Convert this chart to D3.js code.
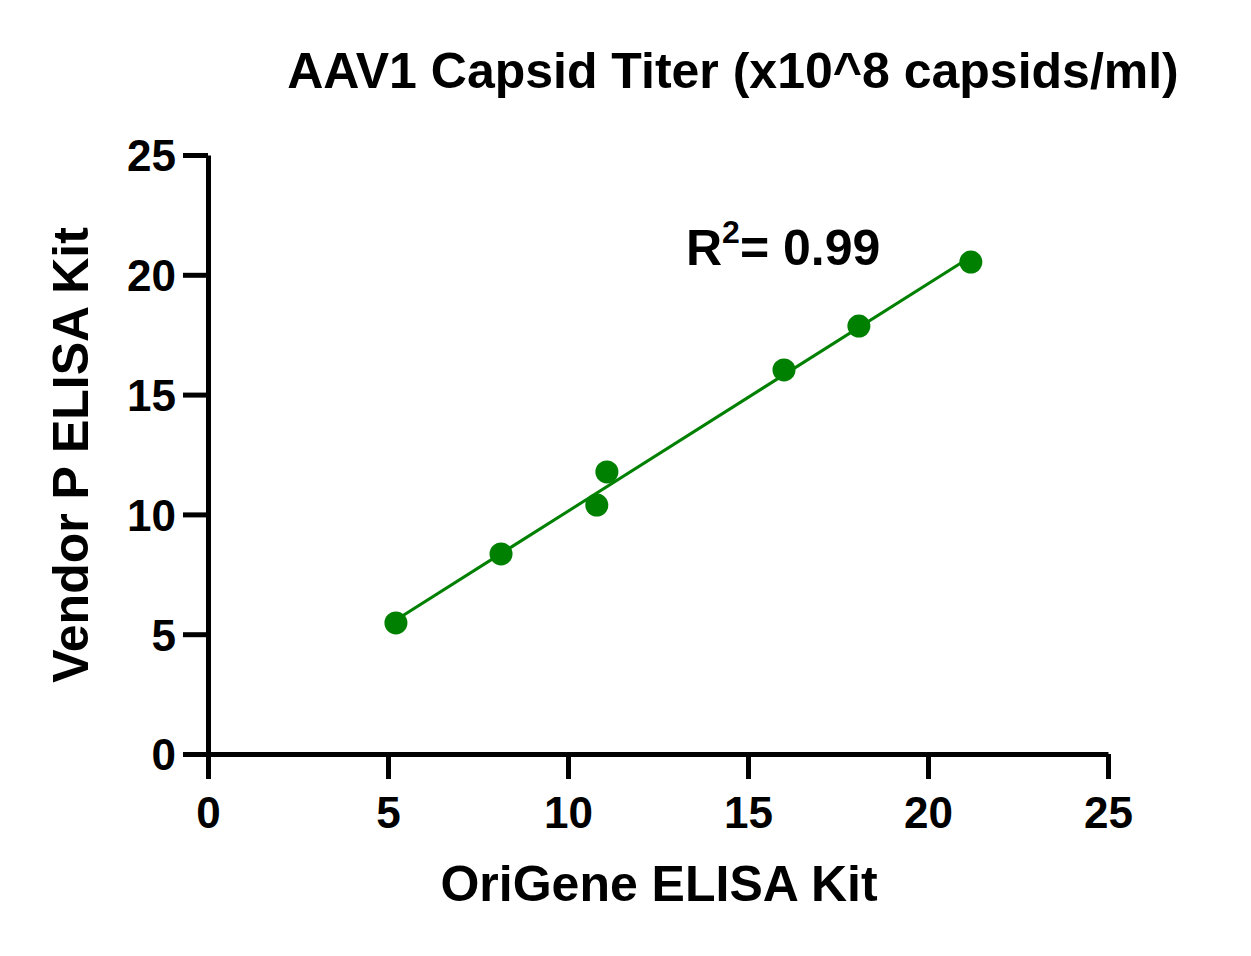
<!DOCTYPE html>
<html>
<head>
<meta charset="utf-8">
<script src="https://cdn.jsdelivr.net/npm/d3@7"></script>
<style>
  body { margin: 0; background: #fff; }
  text { font-family: "Liberation Sans", Arial, sans-serif; font-weight: bold; }
</style>
</head>
<body>
<svg id="chart"></svg>
<script>
// values
const origene = [5.22, 8.14, 10.8, 11.08, 16.0, 18.08, 21.19];
const vendorP = [5.47, 8.35, 10.39, 11.77, 16.03, 17.86, 20.53];
const xTicks = [0, 5, 10, 15, 20, 25];
const yTicks = [0, 5, 10, 15, 20, 25];

const width = 1251, height = 956;
const margin = {top: 155, left: 208, bottom: 202, right: 143};
const green = "#008000";

const svg = d3.select("#chart").attr("width", width).attr("height", height);

const x = d3.scaleLinear().domain([0, 25]).range([margin.left, width - margin.right]);
const y = d3.scaleLinear().domain([0, 25]).range([height - margin.bottom, margin.top]);

// least squares fit
const mx = d3.mean(origene), my = d3.mean(vendorP);
const sxy = d3.sum(origene, (d, i) => (d - mx) * (vendorP[i] - my));
const sxx = d3.sum(origene, d => (d - mx) ** 2);
const slope = sxy / sxx, icpt = my - slope * mx;
const xs = d3.extent(origene);

svg.append("line")
  .attr("x1", x(xs[0])).attr("y1", y(icpt + slope * xs[0]))
  .attr("x2", x(xs[1])).attr("y2", y(icpt + slope * xs[1]))
  .attr("stroke", green).attr("stroke-width", 3);

svg.selectAll("circle").data(origene).enter().append("circle")
  .attr("cx", d => x(d))
  .attr("cy", (d, i) => y(vendorP[i]))
  .attr("r", 11.5)
  .attr("fill", green);

const xAxis = svg.append("g")
  .attr("transform", `translate(0,${y(0)})`)
  .call(d3.axisBottom(x).tickValues(xTicks).tickSize(25).tickPadding(18).tickSizeOuter(0));
const yAxis = svg.append("g")
  .attr("transform", `translate(${x(0)},0)`)
  .call(d3.axisLeft(y).tickValues(yTicks).tickSize(25).tickPadding(7).tickSizeOuter(0));

[xAxis, yAxis].forEach(a => {
  a.select(".domain").attr("stroke", "#000").attr("stroke-width", 5);
  a.selectAll(".tick line").attr("stroke", "#000").attr("stroke-width", 5);
  a.selectAll(".tick text").attr("fill", "#000").style("font-size", "44px")
    .style("font-family", "Liberation Sans, Arial, sans-serif").style("font-weight", "bold");
});
yAxis.selectAll(".tick text").attr("dy", "0.36em");

svg.append("text")
  .attr("x", 733).attr("y", 88)
  .attr("text-anchor", "middle")
  .style("font-size", "50px")
  .text("AAV1 Capsid Titer (x10^8 capsids/ml)");

svg.append("text")
  .attr("x", 659).attr("y", 901)
  .attr("text-anchor", "middle")
  .style("font-size", "50px")
  .text("OriGene ELISA Kit");

svg.append("text")
  .attr("transform", `translate(88,455) rotate(-90)`)
  .attr("text-anchor", "middle")
  .style("font-size", "50px")
  .text("Vendor P ELISA Kit");

const r2 = svg.append("text")
  .attr("x", 686).attr("y", 265)
  .style("font-size", "50px");
r2.append("tspan").text("R");
r2.append("tspan").attr("dy", -22).style("font-size", "32px").text("2");
r2.append("tspan").attr("dy", 22).text("= 0.99");
</script>
</body>
</html>
